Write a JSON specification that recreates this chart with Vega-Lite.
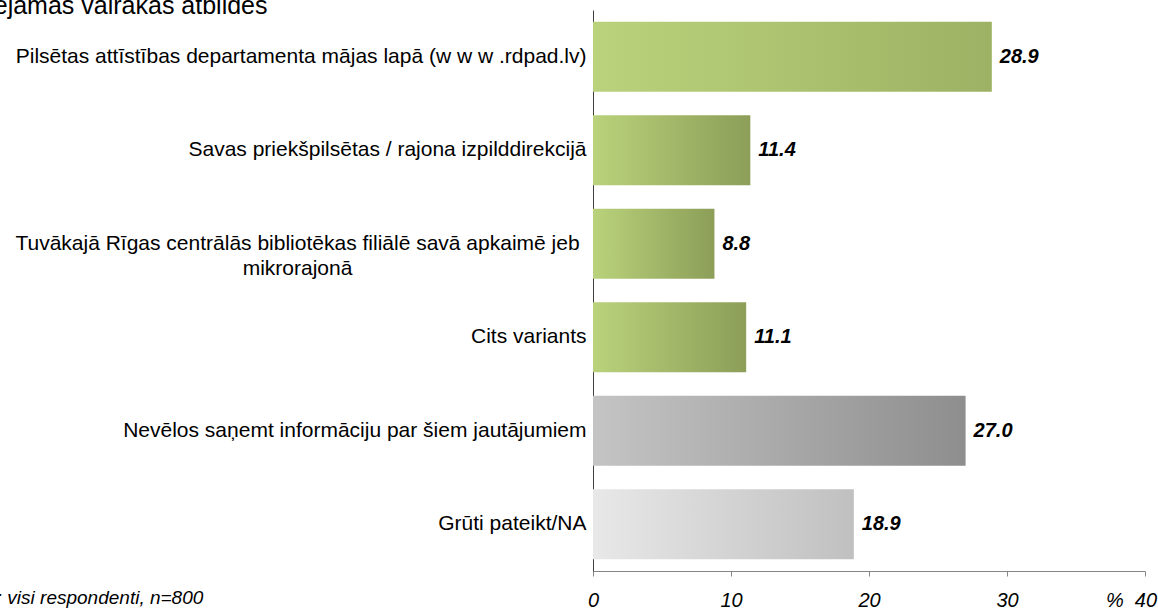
{
  "$schema": "https://vega.github.io/schema/vega-lite/v6.json",
  "width": 552,
  "height": 561,
  "autosize": {"type": "none"},
  "padding": {"left": 593, "top": 10, "right": 13, "bottom": 37},
  "background": "white",
  "data": {
    "values": [
      {"label": "Pilsētas attīstības departamenta mājas lapā (w w w .rdpad.lv)", "value": 28.9},
      {"label": "Savas priekšpilsētas / rajona izpilddirekcijā", "value": 11.4},
      {"label": "Tuvākajā Rīgas centrālās bibliotēkas filiālē savā apkaimē jeb\nmikrorajonā", "value": 8.8},
      {"label": "Cits variants", "value": 11.1},
      {"label": "Nevēlos saņemt informāciju par šiem jautājumiem", "value": 27.0},
      {"label": "Grūti pateikt/NA", "value": 18.9}
    ]
  },
  "encoding": {
    "y": {
      "field": "label",
      "type": "nominal",
      "sort": null,
      "scale": {"paddingInner": 0.25, "paddingOuter": 0.125},
      "axis": {
        "title": "Iespējamas vairākas atbildes",
        "titleAngle": 0,
        "titleX": -647,
        "titleY": 3,
        "titleAlign": "left",
        "titleAnchor": "start",
        "titleBaseline": "alphabetic",
        "titleFontSize": 25,
        "titleFontWeight": "normal",
        "titleColor": "black",
        "titleLimit": 0,
        "domain": true,
        "domainColor": "#404040",
        "domainWidth": 1,
        "ticks": false,
        "labelFontSize": 21,
        "labelColor": "black",
        "labelLimit": 0,
        "labelLineHeight": 25,
        "labelExpr": "split(datum.label, '\\n')",
        "labelAlign": {"condition": {"test": "indexof(datum.value, 'mikrorajon') >= 0", "value": "center"}, "value": "right"},
        "labelPadding": {"condition": {"test": "indexof(datum.value, 'mikrorajon') >= 0", "value": 296}, "value": 7}
      }
    },
    "x": {
      "field": "value",
      "type": "quantitative",
      "scale": {"domain": [0, 40], "nice": false},
      "axis": {
        "values": [0, 10, 20, 30, 40],
        "grid": false,
        "domainColor": "#868686",
        "tickColor": "#868686",
        "tickSize": 5,
        "labelFontSize": 20,
        "labelFontStyle": "italic",
        "labelColor": "black",
        "labelFlush": false,
        "labelBaseline": "alphabetic",
        "labelPadding": 30,
        "labelExpr": "datum.value == 40 ? '%\u00a0 40' : datum.label",
        "labelOffset": {"condition": {"test": "datum.value == 40", "value": -14}, "value": 0},
        "title": "Bāze: visi respondenti, n=800",
        "titleX": -640,
        "titleY": 32,
        "titleAlign": "left",
        "titleAnchor": "start",
        "titleBaseline": "alphabetic",
        "titleFontStyle": "italic",
        "titleFontWeight": "normal",
        "titleFontSize": 19,
        "titleColor": "black"
      }
    }
  },
  "layer": [
    {
      "mark": {"type": "bar"},
      "encoding": {
        "color": {
          "condition": [
            {"test": "indexof(datum.label, 'Pilsētas') == 0", "value": {"gradient": "linear", "stops": [{"offset": 0, "color": "#bad27b"}, {"offset": 1, "color": "#9db264"}]}},
            {"test": "indexof(datum.label, 'Nevēlos') == 0", "value": {"gradient": "linear", "stops": [{"offset": 0, "color": "#c4c4c4"}, {"offset": 1, "color": "#8e8e8e"}]}},
            {"test": "indexof(datum.label, 'Grūti') == 0", "value": {"gradient": "linear", "stops": [{"offset": 0, "color": "#e8e8e8"}, {"offset": 1, "color": "#c0c0c0"}]}}
          ],
          "value": {"gradient": "linear", "stops": [{"offset": 0, "color": "#bad27b"}, {"offset": 1, "color": "#8c9e58"}]}
        }
      }
    },
    {
      "mark": {"type": "text", "align": "left", "baseline": "middle", "dx": 8, "fontSize": 20, "fontStyle": "italic", "fontWeight": "bold", "color": "black"},
      "encoding": {
        "text": {"field": "value", "type": "quantitative", "format": ".1f"}
      }
    }
  ],
  "config": {
    "view": {"stroke": null},
    "font": "Liberation Sans"
  }
}
